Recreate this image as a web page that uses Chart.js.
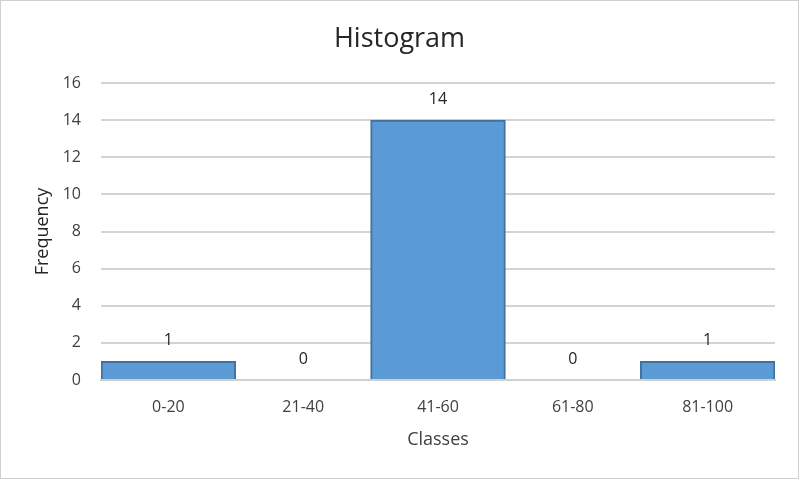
<!DOCTYPE html>
<html>
<head>
<meta charset="utf-8">
<script src="https://cdn.jsdelivr.net/npm/chart.js@4/dist/chart.umd.min.js"></script>
<style>
html,body{margin:0;padding:0;background:#fff;}
#wrap{width:799px;height:479px;position:relative;}
</style>
</head>
<body>
<div id="wrap"><canvas id="c" width="799" height="479"></canvas></div>
<script>
const categories = ["0-20", "21-40", "41-60", "61-80", "81-100"];
const frequencies = [1, 0, 14, 0, 1];
const yTicks = [0, 2, 4, 6, 8, 10, 12, 14, 16];
const chartTitle = "Histogram";
const xTitle = "Classes";
const yTitle = "Frequency";

const FONT = "'Open Sans', sans-serif";

const frame = {
  id: 'frame',
  beforeDraw(chart) {
    const ctx = chart.ctx;
    ctx.save();
    ctx.fillStyle = '#fff';
    ctx.fillRect(0, 0, chart.width, chart.height);
    ctx.strokeStyle = '#d0d0d0';
    ctx.lineWidth = 1;
    ctx.strokeRect(0.5, 0.5, chart.width - 1, chart.height - 1);
    ctx.restore();
  }
};

const labels = {
  id: 'labels',
  afterDatasetsDraw(chart) {
    const ctx = chart.ctx;
    const meta = chart.getDatasetMeta(0);
    ctx.save();
    ctx.font = "16px " + FONT;
    ctx.fillStyle = '#262626';
    ctx.textAlign = 'center';
    ctx.textBaseline = 'middle';
    meta.data.forEach((bar, i) => {
      ctx.fillText(String(chart.data.datasets[0].data[i]), bar.x, bar.y - 21);
    });
    ctx.restore();
  }
};

new Chart(document.getElementById('c'), {
  type: 'bar',
  data: {
    labels: categories,
    datasets: [{
      data: frequencies,
      backgroundColor: '#5B9BD5',
      borderColor: '#41719C',
      borderWidth: 2,
      barPercentage: 1,
      categoryPercentage: 1
    }]
  },
  options: {
    responsive: false,
    animation: false,
    layout: { padding: { left: 12, right: 12, top: 0, bottom: 0 } },
    plugins: {
      legend: { display: false },
      tooltip: { enabled: false },
      title: {
        display: true,
        text: chartTitle,
        color: '#262626',
        font: { family: FONT, size: 27, weight: 'normal' },
        padding: { top: 23, bottom: 27.6 }
      }
    },
    scales: {
      x: {
        grid: { display: false, drawTicks: false },
        border: { display: true, color: '#d0d0d0', width: 2 },
        ticks: { color: '#404040', font: { family: FONT, size: 16 }, padding: 18 },
        title: { display: true, text: xTitle, color: '#404040', font: { family: FONT, size: 18 }, padding: { top: 10, bottom: 28 } },
        afterFit(s) { s.height = 99; }
      },
      y: {
        min: 0, max: 16,
        afterBuildTicks(s) { s.ticks = yTicks.map(v => ({ value: v })); },
        grid: { color: '#d4d4d4', drawTicks: false, lineWidth: 2 },
        border: { display: false },
        ticks: { color: '#404040', font: { family: FONT, size: 16 }, padding: 20 },
        title: { display: true, text: yTitle, color: '#262626', font: { family: FONT, size: 18 }, padding: { top: 20, bottom: 0 } },
        afterFit(s) { s.width = 89; }
      },
      yr: {
        position: 'right',
        min: 0, max: 16,
        grid: { display: false, drawTicks: false },
        border: { display: false },
        ticks: { display: false },
        afterFit(s) { s.width = 12; }
      }
    }
  },
  plugins: [frame, labels]
});
</script>
</body>
</html>
